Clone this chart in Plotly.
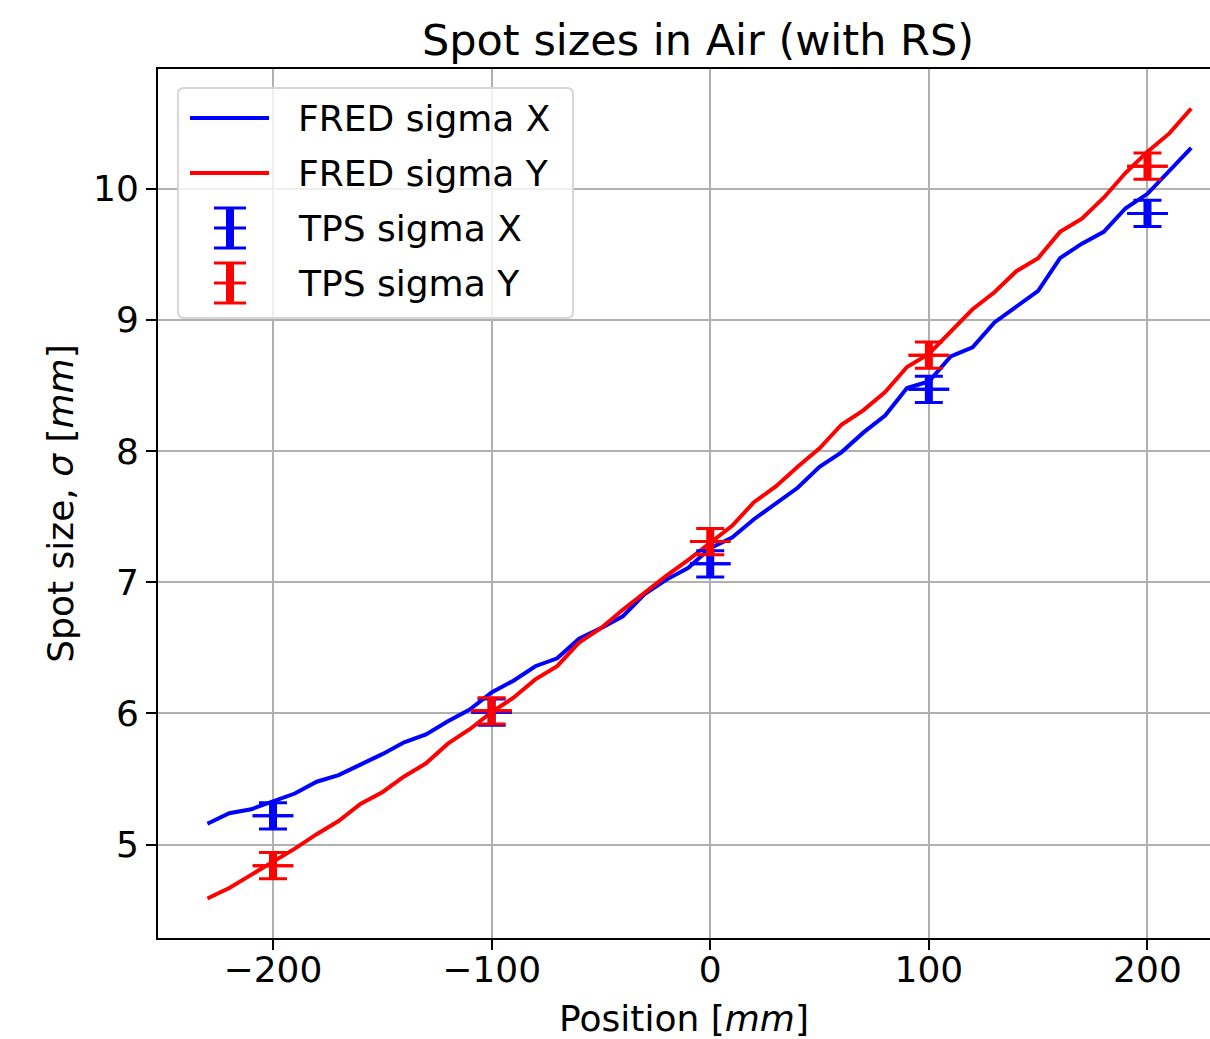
import plotly.graph_objects as go

# ---------------- data ----------------
positions = [-230, -220, -210, -200, -190, -180, -170, -160, -150, -140,
             -130, -120, -110, -100, -90, -80, -70, -60, -50, -40,
             -30, -20, -10, 0, 10, 20, 30, 40, 50, 60,
             70, 80, 90, 100, 110, 120, 130, 140, 150, 160,
             170, 180, 190, 200, 210, 220]
fred_sigma_x = [5.16, 5.24, 5.27, 5.33, 5.39, 5.48, 5.53, 5.61, 5.69, 5.78,
                5.84, 5.94, 6.03, 6.16, 6.25, 6.36, 6.42, 6.57, 6.65, 6.74,
                6.91, 7.02, 7.11, 7.26, 7.34, 7.48, 7.60, 7.72, 7.88, 7.99,
                8.14, 8.27, 8.48, 8.53, 8.72, 8.79, 8.98, 9.10, 9.22, 9.47,
                9.58, 9.67, 9.85, 9.96, 10.14, 10.31]
fred_sigma_y = [4.59, 4.67, 4.77, 4.87, 4.97, 5.08, 5.18, 5.31, 5.40, 5.52,
                5.62, 5.77, 5.88, 6.01, 6.12, 6.26, 6.36, 6.54, 6.65, 6.79,
                6.92, 7.05, 7.17, 7.30, 7.43, 7.61, 7.73, 7.88, 8.02, 8.20,
                8.31, 8.45, 8.64, 8.74, 8.91, 9.08, 9.21, 9.37, 9.47, 9.67,
                9.77, 9.93, 10.12, 10.28, 10.42, 10.61]

tps_positions = [-200, -100, 0, 100, 200]
tps_sigma_x = [5.22, 6.01, 7.14, 8.47, 9.81]
tps_sigma_x_err = [0.10, 0.10, 0.10, 0.10, 0.10]
tps_sigma_y = [4.84, 6.02, 7.31, 8.73, 10.17]
tps_sigma_y_err = [0.10, 0.10, 0.10, 0.10, 0.10]

legend_labels = ["FRED sigma X", "FRED sigma Y", "TPS sigma X", "TPS sigma Y"]
x_ticks = [-200, -100, 0, 100, 200]
y_ticks = [5, 6, 7, 8, 9, 10]

# ---------------- layout constants ----------------
W, H = 1210, 1039
L, R, T, B = 158, 0, 69, 101
PW, PH = W - L - R, H - T - B
FONT = "DejaVu Sans"
BLUE = "#0000ff"
RED = "#ff0000"


def px(x):
    return (x - L) / PW


def py(y):
    return (T + PH - y) / PH


fig = go.Figure()

fig.add_trace(go.Scatter(x=positions, y=fred_sigma_x, mode="lines",
                         line=dict(color=BLUE, width=4), name=legend_labels[0],
                         showlegend=False))
fig.add_trace(go.Scatter(x=positions, y=fred_sigma_y, mode="lines",
                         line=dict(color=RED, width=4), name=legend_labels[1],
                         showlegend=False))

for vals, errs, col, name in [(tps_sigma_x, tps_sigma_x_err, BLUE, legend_labels[2]),
                              (tps_sigma_y, tps_sigma_y_err, RED, legend_labels[3])]:
    # caps + centre marker
    fig.add_trace(go.Scatter(x=tps_positions, y=vals, mode="markers",
                             marker=dict(symbol="line-ew", size=29,
                                         line=dict(color=col, width=3)),
                             error_y=dict(type="data", array=errs, color=col,
                                          thickness=3, width=14),
                             name=name, showlegend=False))
    # thick vertical stems (drawn as wide, capless error bars)
    fig.add_trace(go.Scatter(x=tps_positions, y=vals, mode="markers",
                             marker=dict(symbol="line-ew", size=29,
                                         line=dict(color=col, width=3)),
                             error_y=dict(type="data", array=errs, color=col,
                                          thickness=8, width=0),
                             showlegend=False, hoverinfo="skip"))

# ---------------- manual legend (matplotlib style) ----------------
shapes = []
bx0, bx1, by0, by1, r = 178, 573, 88, 318, 6
path = (f"M {px(bx0 + r)},{py(by0)} L {px(bx1 - r)},{py(by0)} "
        f"Q {px(bx1)},{py(by0)} {px(bx1)},{py(by0 + r)} "
        f"L {px(bx1)},{py(by1 - r)} Q {px(bx1)},{py(by1)} {px(bx1 - r)},{py(by1)} "
        f"L {px(bx0 + r)},{py(by1)} Q {px(bx0)},{py(by1)} {px(bx0)},{py(by1 - r)} "
        f"L {px(bx0)},{py(by0 + r)} Q {px(bx0)},{py(by0)} {px(bx0 + r)},{py(by0)} Z")
shapes.append(dict(type="path", xref="paper", yref="paper", path=path,
                   fillcolor="rgba(255,255,255,0.8)",
                   line=dict(color="#d6d6d6", width=2), layer="above"))

row_y = [118, 173, 228, 283]
for yy, col in zip(row_y[:2], [BLUE, RED]):
    shapes.append(dict(type="line", xref="paper", yref="paper",
                       x0=px(190), x1=px(269), y0=py(yy), y1=py(yy),
                       line=dict(color=col, width=4), layer="above"))
for yy, col in zip(row_y[2:], [BLUE, RED]):
    shapes.append(dict(type="line", xref="paper", yref="paper",
                       x0=px(230), x1=px(230), y0=py(yy - 20), y1=py(yy + 20),
                       line=dict(color=col, width=8), layer="above"))
    for dy in (-20, 0, 20):
        shapes.append(dict(type="line", xref="paper", yref="paper",
                           x0=px(214), x1=px(246), y0=py(yy + dy), y1=py(yy + dy),
                           line=dict(color=col, width=3), layer="above"))

annotations = []
for yy, lab in zip(row_y, legend_labels):
    annotations.append(dict(x=px(296), y=py(yy), xref="paper", yref="paper",
                            text=lab, showarrow=False, xanchor="left",
                            yanchor="middle",
                            font=dict(family=FONT, size=36, color="black")))

fig.update_layout(
    width=W, height=H,
    margin=dict(l=L, r=R, t=T, b=B, pad=0),
    paper_bgcolor="white", plot_bgcolor="white",
    font=dict(family=FONT, size=36, color="black"),
    title=dict(text="Spot sizes in Air (with RS)", x=698 / W,
               xanchor="center", y=1 - 40 / H, yanchor="middle",
               font=dict(family=FONT, size=43, color="black")),
    showlegend=False,
    shapes=shapes,
    annotations=annotations,
)

fig.update_xaxes(range=[-252.6, 228.6], tickvals=x_ticks,
                 ticktext=[("\u2212" + str(abs(v))) if v < 0 else str(v) for v in x_ticks],
                 showgrid=True, gridcolor="#b0b0b0", gridwidth=2,
                 zeroline=False, showline=True, linecolor="black", linewidth=2,
                 mirror=True, ticks="outside", ticklen=10, tickwidth=2,
                 tickcolor="black", tickfont=dict(family=FONT, size=36),
                 ticklabelstandoff=-11,
                 title=dict(text="Position [<i>mm</i>]", standoff=19,
                            font=dict(family=FONT, size=36)))
fig.update_yaxes(range=[4.289, 10.911], tickvals=y_ticks,
                 showgrid=True, gridcolor="#b0b0b0", gridwidth=2,
                 zeroline=False, showline=True, linecolor="black", linewidth=2,
                 mirror=False, ticks="outside", ticklen=10, tickwidth=2,
                 tickcolor="black", tickfont=dict(family=FONT, size=36),
                 title=dict(text="Spot size, <i>\u03c3</i> [<i>mm</i>]", standoff=8,
                            font=dict(family=FONT, size=36)))

fig.write_html("out.html")
